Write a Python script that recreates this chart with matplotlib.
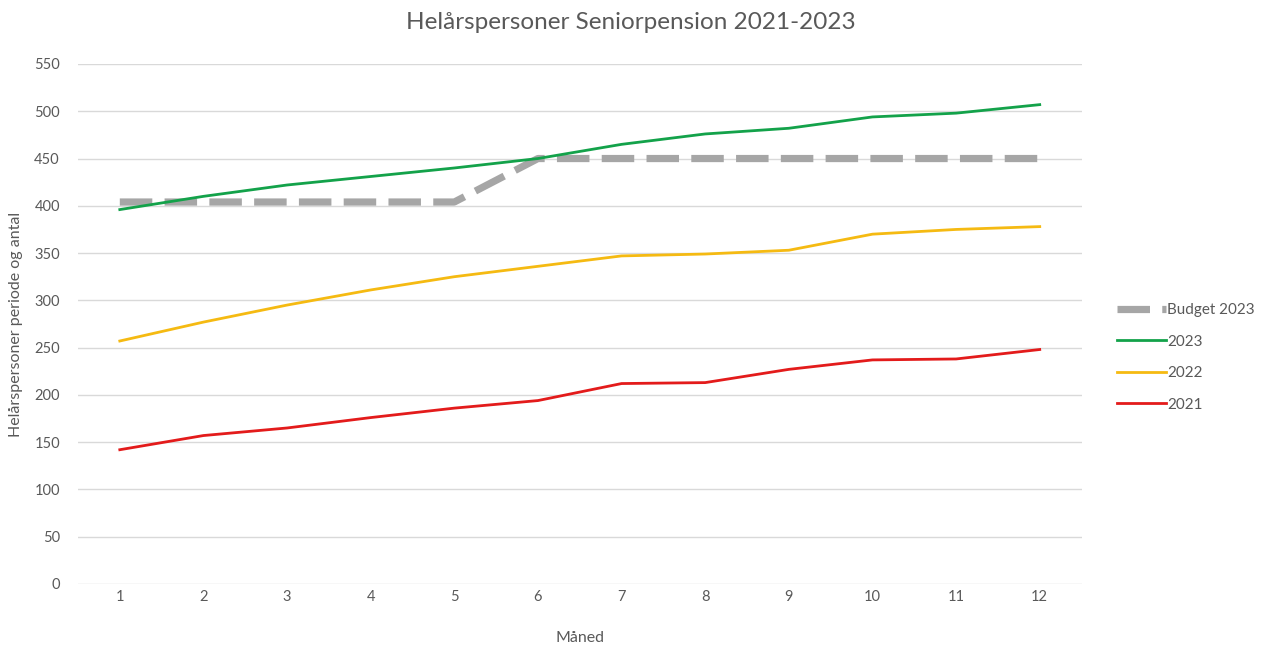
import matplotlib
matplotlib.use("Agg")
import matplotlib.pyplot as plt
from matplotlib.ticker import MultipleLocator

months = [1, 2, 3, 4, 5, 6, 7, 8, 9, 10, 11, 12]
budget_2023 = [404, 404, 404, 404, 404, 450, 450, 450, 450, 450, 450, 450]
y2023 = [396, 410, 422, 431, 440, 450, 465, 476, 482, 494, 498, 507]
y2022 = [257, 277, 295, 311, 325, 336, 347, 349, 353, 370, 375, 378]
y2021 = [142, 157, 165, 176, 186, 194, 212, 213, 227, 237, 238, 248]

title = "Helårspersoner Seniorpension 2021-2023"
xlabel = "Måned"
ylabel = "Helårspersoner periode og antal"

plt.rcParams['font.family'] = ['Lato', 'DejaVu Sans']
txt = '#595959'

fig = plt.figure(figsize=(12.62, 6.45), dpi=100)
ax = fig.add_axes([0.0618, 0.0946, 0.7952, 0.8062])

lb, = ax.plot(months, budget_2023, color='#A6A6A6', lw=5.2, dashes=(4.5, 1.7),
              solid_capstyle='butt', dash_capstyle='butt', label='Budget 2023', zorder=2)
l23, = ax.plot(months, y2023, color='#13A24A', lw=2.0, label='2023', zorder=3)
l22, = ax.plot(months, y2022, color='#F5BA12', lw=2.0, label='2022', zorder=3)
l21, = ax.plot(months, y2021, color='#E31B1B', lw=2.0, label='2021', zorder=3)

ax.set_xlim(0.5, 12.5)
ax.set_ylim(0, 550)
ax.yaxis.set_major_locator(MultipleLocator(50))
ax.set_xticks(months)
ax.grid(axis='y', color='#D9D9D9', lw=1.0)
ax.set_axisbelow(True)
for s in ax.spines.values():
    s.set_visible(False)
ax.tick_params(length=0, labelsize=10.5, colors=txt)
ax.tick_params(axis='x', pad=4)
ax.tick_params(axis='y', pad=13)

fig.text(0.5, 0.965, title, ha='center', va='center', fontsize=17.5, color=txt)
ax.set_xlabel(xlabel, fontsize=11.5, color=txt, labelpad=20)
ax.set_ylabel(ylabel, fontsize=11.5, color=txt, labelpad=8)

fig.legend(handles=[lb, l23, l22, l21], loc='center left',
           bbox_to_anchor=(0.880, 0.446), frameon=False, fontsize=11,
           handlelength=3.2, handletextpad=0.1, labelspacing=1.15,
           labelcolor=txt, borderaxespad=0)

fig.savefig('out.png', dpi=100, facecolor='white')
